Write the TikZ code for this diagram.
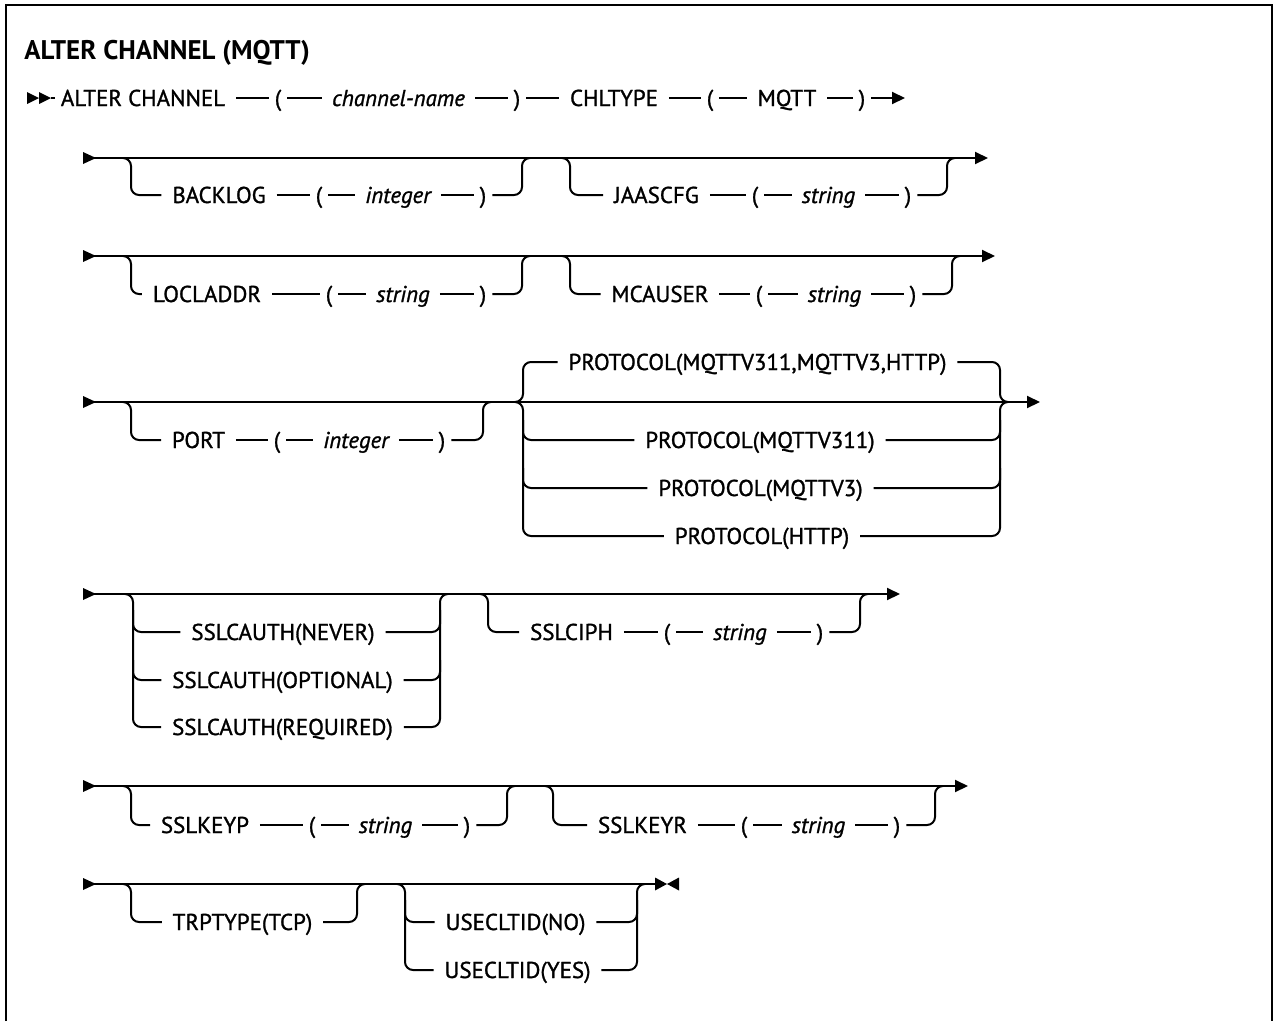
\documentclass[tikz,border=0pt]{standalone}
\usepackage{fontspec}
\setmainfont{PT Sans}
\newfontfamily\railfont[FakeBold=1.2]{PT Sans}
\newfontfamily\railfontit[FakeBold=1.2]{PT Sans Italic}
\usetikzlibrary{arrows.meta}
\newcommand\optbr[6]{%
  \draw[rail] (#1-8,#3) -- (#1,#3) -- (#1,#4) -- (#5.west);
  \draw[rail] (#6.east) -- (#2,#4) -- (#2,#3) -- (#2+8,#3);}
\newcommand\startmk[1]{\fill (83,#1-6) -- (96,#1) -- (83,#1+6) -- cycle;}
\begin{document}
\begin{tikzpicture}[x=0.75pt,y=-0.75pt,
  rail/.style={line width=1.5pt, rounded corners=6pt},
  tok/.style={font=\railfont\fontsize{17.2}{20}\selectfont, inner ysep=0pt, text height=15.6pt, text depth=3.6pt, anchor=center},
  kwd/.style={tok, inner xsep=8pt},
  vbl/.style={tok, font=\railfontit\fontsize{17.2}{20}\selectfont, inner xsep=7.5pt},
  prn/.style={tok, inner xsep=4.5pt},
  arrowend/.style={-{Triangle[length=9.75pt,width=9pt]}}]
\useasboundingbox (0,0) rectangle (1274,1021);
% frame
\draw[line width=2pt] (6,1021) -- (6,5) -- (1272,5) -- (1272,1021);
% title
\node[anchor=base west, inner sep=0pt, font=\fontsize{20.2}{24}\selectfont\bfseries] (title) at (24,59) {ALTER CHANNEL (MQTT)};

% ---------- row 0
\fill (27,92) -- (39,98) -- (27,104) -- cycle;
\fill (39,92) -- (51,98) -- (39,104) -- cycle;
\coordinate (s0) at (51,98);
\coordinate (s0b) at (55,98);
\draw[rail] (s0) -- (s0b);
\node[kwd] (ac) at (143,98) {ALTER CHANNEL};
\node[prn] (l0a) at (278,98) {(};
\node[vbl] (cn) at (398.5,98) {channel-name};
\node[prn] (r0a) at (517,98) {)};
\node[kwd] (ct) at (614,98) {CHLTYPE};
\node[prn] (l0b) at (710,98) {(};
\node[kwd] (mq) at (787,98) {MQTT};
\node[prn] (r0b) at (862,98) {)};
\coordinate (e0) at (905,98);
\draw[rail] (ac.east) -- (l0a.west) (l0a.east) -- (cn.west) (cn.east) -- (r0a.west)
  (r0a.east) -- (ct.west) (ct.east) -- (l0b.west) (l0b.east) -- (mq.west) (mq.east) -- (r0b.west);
\draw[rail,arrowend] (r0b.east) -- (e0);

% ---------- row 1
\startmk{158}
\coordinate (s1) at (90,158); \coordinate (e1) at (988,158);
\draw[rail,arrowend] (s1) -- (e1);
\node[kwd] (bl) at (219,195) {BACKLOG};
\node[prn] (bl1) at (319,195) {(};
\node[vbl] (bl2) at (398,195) {integer};
\node[prn] (bl3) at (483,195) {)};
\draw[rail] (bl.east) -- (bl1.west) (bl1.east) -- (bl2.west) (bl2.east) -- (bl3.west);
\optbr{131}{522}{158}{195}{bl}{bl3}
\node[kwd] (ja) at (656.5,195) {JAASCFG};
\node[prn] (ja1) at (755,195) {(};
\node[vbl] (ja2) at (828.5,195) {string};
\node[prn] (ja3) at (908,195) {)};
\draw[rail] (ja.east) -- (ja1.west) (ja1.east) -- (ja2.west) (ja2.east) -- (ja3.west);
\optbr{570}{947}{158}{195}{ja}{ja3}

% ---------- row 2
\startmk{256}
\coordinate (s2) at (90,256); \coordinate (e2) at (995,256);
\draw[rail,arrowend] (s2) -- (e2);
\node[kwd] (la) at (207,294) {LOCLADDR};
\node[prn] (la1) at (329,294) {(};
\node[vbl] (la2) at (403,294) {string};
\node[prn] (la3) at (483,294) {)};
\draw[rail] (la.east) -- (la1.west) (la1.east) -- (la2.west) (la2.east) -- (la3.west);
\optbr{131}{522}{256}{294}{la}{la3}
\node[kwd] (mc) at (660,294) {MCAUSER};
\node[prn] (mc1) at (759,294) {(};
\node[vbl] (mc2) at (834.5,294) {string};
\node[prn] (mc3) at (913,294) {)};
\draw[rail] (mc.east) -- (mc1.west) (mc1.east) -- (mc2.west) (mc2.east) -- (mc3.west);
\optbr{570}{952}{256}{294}{mc}{mc3}

% ---------- row 3
\startmk{402}
\coordinate (s3) at (90,402); \coordinate (e3) at (1040,402);
\draw[rail,arrowend] (s3) -- (e3);
\node[kwd] (po) at (198.5,440) {PORT};
\node[prn] (po1) at (277,440) {(};
\node[vbl] (po2) at (356,440) {integer};
\node[prn] (po3) at (442,440) {)};
\draw[rail] (po.east) -- (po1.west) (po1.east) -- (po2.west) (po2.east) -- (po3.west);
\optbr{131}{483}{402}{440}{po}{po3}
\node[kwd] (pd) at (757.5,362) {PROTOCOL(MQTTV311,MQTTV3,HTTP)};
\node[kwd] (p1) at (760,440) {PROTOCOL(MQTTV311)};
\node[kwd] (p2) at (760.5,488) {PROTOCOL(MQTTV3)};
\node[kwd] (p3) at (762,536) {PROTOCOL(HTTP)};
\draw[rail] (515,402) -- (523,402) -- (523,362) -- (pd.west);
\draw[rail] (515,402) -- (523,402) -- (523,536) -- (p3.west);
\draw[rail] (523,420) -- (523,440) -- (p1.west);
\draw[rail] (523,468) -- (523,488) -- (p2.west);
\draw[rail] (pd.east) -- (1000,362) -- (1000,402) -- (1008,402);
\draw[rail] (p3.east) -- (1000,536) -- (1000,402) -- (1008,402);
\draw[rail] (p1.east) -- (1000,440) -- (1000,420);
\draw[rail] (p2.east) -- (1000,488) -- (1000,468);

% ---------- row 4
\startmk{594}
\coordinate (s4) at (90,594); \coordinate (e4) at (900,594);
\draw[rail,arrowend] (s4) -- (e4);
\node[kwd] (sa1) at (283,632) {SSLCAUTH(NEVER)};
\node[kwd] (sa2) at (282.5,680) {SSLCAUTH(OPTIONAL)};
\node[kwd] (sa3) at (282.5,727) {SSLCAUTH(REQUIRED)};
\draw[rail] (125,594) -- (133,594) -- (133,727) -- (sa3.west);
\draw[rail] (133,610) -- (133,632) -- (sa1.west);
\draw[rail] (133,660) -- (133,680) -- (sa2.west);
\draw[rail] (sa3.east) -- (440,727) -- (440,594) -- (448,594);
\draw[rail] (sa1.east) -- (440,632) -- (440,610);
\draw[rail] (sa2.east) -- (440,680) -- (440,660);
\node[kwd] (sc) at (571.5,632) {SSLCIPH};
\node[prn] (sc1) at (667,632) {(};
\node[vbl] (sc2) at (740,632) {string};
\node[prn] (sc3) at (820,632) {)};
\draw[rail] (sc.east) -- (sc1.west) (sc1.east) -- (sc2.west) (sc2.east) -- (sc3.west);
\optbr{488}{860}{594}{632}{sc}{sc3}

% ---------- row 5
\startmk{786}
\coordinate (s5) at (90,786); \coordinate (e5) at (968,786);
\draw[rail,arrowend] (s5) -- (e5);
\node[kwd] (kp) at (205,825) {SSLKEYP};
\node[prn] (kp1) at (312,825) {(};
\node[vbl] (kp2) at (385.5,825) {string};
\node[prn] (kp3) at (467,825) {)};
\draw[rail] (kp.east) -- (kp1.west) (kp1.east) -- (kp2.west) (kp2.east) -- (kp3.west);
\optbr{131}{507}{786}{825}{kp}{kp3}
\node[kwd] (kr) at (642.5,825) {SSLKEYR};
\node[prn] (kr1) at (744,825) {(};
\node[vbl] (kr2) at (818.5,825) {string};
\node[prn] (kr3) at (897,825) {)};
\draw[rail] (kr.east) -- (kr1.west) (kr1.east) -- (kr2.west) (kr2.east) -- (kr3.west);
\optbr{553}{935}{786}{825}{kr}{kr3}

% ---------- row 6
\startmk{884}
\coordinate (s6) at (90,884); \coordinate (e6) at (656,884);
\draw[rail] (s6) -- (e6);
\node[kwd] (tr) at (242.5,922) {TRPTYPE(TCP)};
\optbr{131}{357}{884}{922}{tr}{tr}
\node[kwd] (u1) at (515.5,922) {USECLTID(NO)};
\node[kwd] (u2) at (517.5,970) {USECLTID(YES)};
\draw[rail] (397,884) -- (405,884) -- (405,970) -- (u2.west);
\draw[rail] (405,900) -- (405,922) -- (u1.west);
\draw[rail] (u2.east) -- (637,970) -- (637,884) -- (645,884);
\draw[rail] (u1.east) -- (637,922) -- (637,900);
\fill (655,877.5) -- (667,884) -- (655,890.5) -- cycle;
\fill (679,877.5) -- (667,884) -- (679,890.5) -- cycle;
\end{tikzpicture}
\end{document}
